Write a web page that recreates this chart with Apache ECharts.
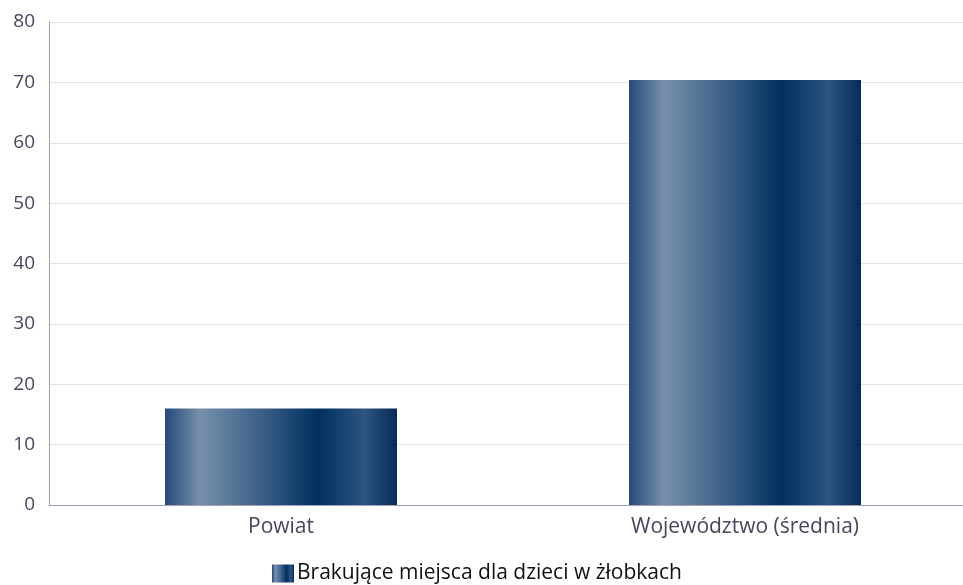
<!DOCTYPE html>
<html><head><meta charset="utf-8">
<script src="https://cdn.jsdelivr.net/npm/echarts@6/dist/echarts.min.js"></script>
<style>html,body{margin:0;padding:0;background:#fff;overflow:hidden;width:963px;height:585px}#c{width:977px;height:585px}</style>
</head><body><div id="c"></div>
<script>
const categories = ['Powiat', 'Województwo (średnia)'];
const values = [16, 70.4];
const seriesName = 'Brakujące miejsca dla dzieci w żłobkach';
const yTicks = {min: 0, max: 80, interval: 10};

const grad = new echarts.graphic.LinearGradient(0, 0, 1, 0, [
  {offset: 0, color: '#24497a'},
  {offset: 0.15, color: '#7790ab'},
  {offset: 0.4, color: '#3f628a'},
  {offset: 0.66, color: '#00305f'},
  {offset: 0.86, color: '#2d5580'},
  {offset: 1, color: '#062b57'}
]);
const FONT = 'Open Sans';
const chart = echarts.init(document.getElementById('c'));
chart.setOption({
  animation: false,
  textStyle: {fontFamily: FONT},
  grid: {left: 49, right: 0, top: 22, bottom: 80, containLabel: false},
  legend: {
    top: 563, left: 272, itemWidth: 22, itemHeight: 18, itemGap: 10, padding: 0,
    icon: 'rect',
    textStyle: {fontSize: 21, color: '#111', fontFamily: FONT, padding: [0, 0, 0, -2]},
    data: [seriesName]
  },
  xAxis: {
    type: 'category', data: categories,
    axisLine: {lineStyle: {color: '#a0a0b8'}},
    axisTick: {show: false},
    axisLabel: {fontSize: 21, color: '#45475e', margin: 12}
  },
  yAxis: {
    type: 'value', min: yTicks.min, max: yTicks.max, interval: yTicks.interval,
    axisLine: {show: true, lineStyle: {color: '#a0a0b8'}},
    axisTick: {show: false},
    splitLine: {lineStyle: {color: '#e4e4e4'}},
    axisLabel: {fontSize: 19, color: '#45475e', margin: 14}
  },
  series: [{
    name: seriesName, type: 'bar', data: values, barWidth: '50%',
    itemStyle: {color: grad}
  }]
});
</script></body></html>
